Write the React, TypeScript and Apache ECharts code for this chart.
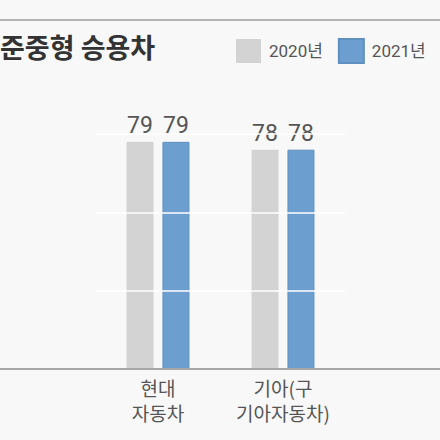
import React, { useEffect, useRef } from 'react';
import * as echarts from 'echarts';

const categories = ['현대\n자동차', '기아(구\n기아자동차)'];
const seriesNames = ['2020년', '2021년'];
const values2020 = [79, 78];
const values2021 = [79, 78];
const titleText = '준중형 승용차';

const KR = "'Noto Sans CJK KR', 'Noto Sans', sans-serif";
const NUM = "Roboto, 'Noto Sans CJK KR', sans-serif";

const App: React.FC = () => {
  const chartRef = useRef<HTMLDivElement>(null);

  useEffect(() => {
    document.body.style.margin = '0';
    if (!chartRef.current) return;
    const chart = echarts.init(chartRef.current, null, { renderer: 'svg' });

    const option: echarts.EChartsOption = {
      animation: false,
      backgroundColor: '#f8f8f8',
      title: {
        text: titleText,
        left: 0,
        top: 33,
        padding: 0,
        textStyle: { fontFamily: KR, fontSize: 27, fontWeight: 'bold', color: '#333' }
      },
      legend: {
        orient: 'horizontal',
        left: 236,
        top: 38,
        width: 400,
        padding: 0,
        itemWidth: 25,
        itemHeight: 24,
        itemGap: 15,
        icon: 'rect',
        data: seriesNames,
        textStyle: { fontFamily: NUM, fontSize: 17, color: '#555', padding: [0, 0, 0, 3] }
      },
      grid: { left: 95.5, right: 94.5, top: 134, bottom: 71, containLabel: false },
      xAxis: {
        type: 'category',
        data: categories,
        axisLine: { show: false },
        axisTick: { show: false },
        axisLabel: {
          fontFamily: KR,
          fontSize: 19,
          lineHeight: 25,
          color: '#555',
          margin: 6,
          interval: 0
        }
      },
      yAxis: {
        type: 'value',
        min: 50,
        max: 80,
        interval: 10,
        z: 5,
        axisLine: { show: false },
        axisTick: { show: false },
        axisLabel: { show: false },
        splitLine: { lineStyle: { color: '#ffffff', width: 1.5 } }
      },
      graphic: [
        {
          type: 'line',
          shape: { x1: 0, y1: 20, x2: 440, y2: 20 },
          style: { stroke: '#b4b4b4', lineWidth: 2 }
        },
        {
          type: 'line',
          shape: { x1: 0, y1: 369, x2: 440, y2: 369 },
          style: { stroke: '#a8a8a8', lineWidth: 2 },
          z: 10
        }
      ],
      series: [
        {
          name: seriesNames[0],
          type: 'bar',
          data: values2020,
          barWidth: 27,
          barGap: '33%',
          itemStyle: { color: '#d3d3d3' },
          label: {
            show: true,
            position: 'top',
            distance: 5,
            fontFamily: NUM,
            fontSize: 23,
            color: '#555'
          }
        },
        {
          name: seriesNames[1],
          type: 'bar',
          data: values2021,
          barWidth: 27,
          barGap: '33%',
          itemStyle: { color: '#6c9fd0', borderColor: '#5f8fbf', borderWidth: 1 },
          label: {
            show: true,
            position: 'top',
            distance: 5,
            fontFamily: NUM,
            fontSize: 23,
            color: '#555'
          }
        }
      ]
    };

    chart.setOption(option);

    return () => {
      chart.dispose();
    };
  }, []);

  return <div ref={chartRef} style={{ width: '440px', height: '440px' }} />;
};

export default App;
